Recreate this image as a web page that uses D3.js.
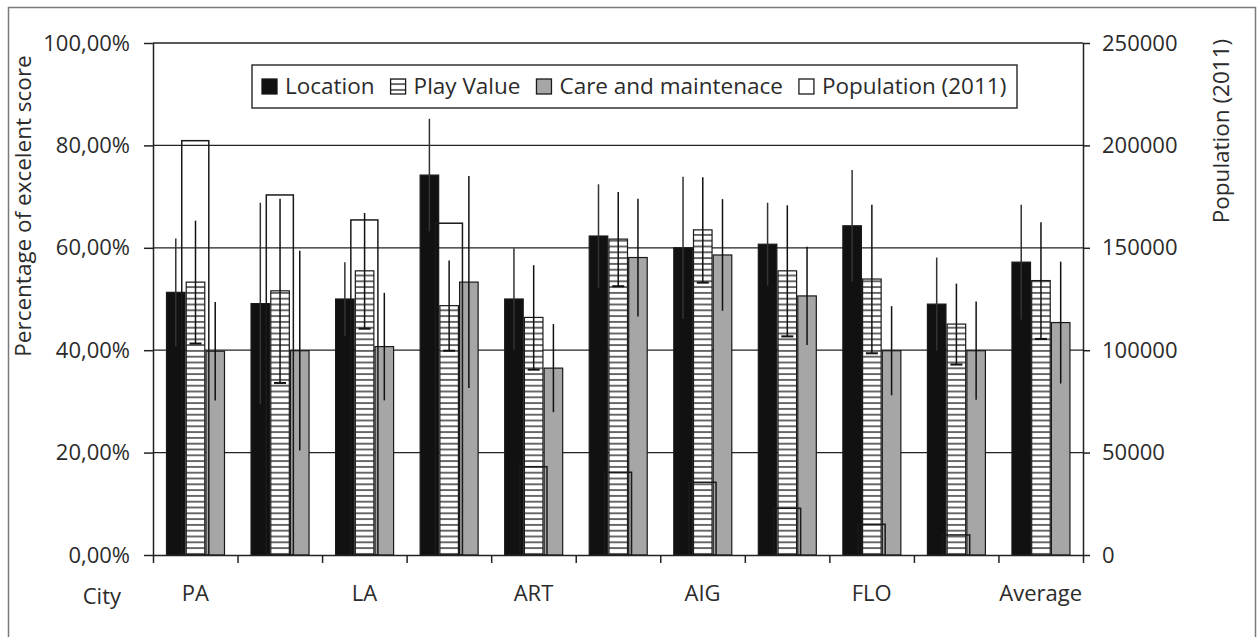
<!DOCTYPE html>
<html>
<head>
<meta charset="utf-8">
<script src="https://cdn.jsdelivr.net/npm/d3@7"></script>
<style>
  body { margin: 0; background: #fff; }
  text { font-family: "Open Sans", sans-serif; fill: #2b2b2b; }
</style>
</head>
<body>
<div class="chart"></div>
<script>
// categories (only every second label is printed on the axis)
var cityLabels = ["PA", "", "LA", "", "ART", "", "AIG", "", "FLO", "", "Average"];
var seriesNames = ["Location", "Play Value", "Care and maintenace", "Population (2011)"];

// share of excellent scores, with error bar half-widths
var location_ = [0.513, 0.491, 0.500, 0.742, 0.500, 0.623, 0.600, 0.607, 0.643, 0.490, 0.572];
var locationErr = [0.105, 0.197, 0.072, 0.110, 0.099, 0.101, 0.139, 0.081, 0.109, 0.091, 0.112];
var playValue = [0.533, 0.516, 0.555, 0.487, 0.464, 0.617, 0.635, 0.555, 0.539, 0.451, 0.536];
var playErr = [0.120, 0.180, 0.113, 0.088, 0.102, 0.092, 0.103, 0.128, 0.145, 0.079, 0.114];
var care = [0.398, 0.399, 0.407, 0.533, 0.365, 0.581, 0.586, 0.506, 0.399, 0.399, 0.454];
var careErr = [0.096, 0.195, 0.105, 0.207, 0.086, 0.115, 0.109, 0.096, 0.087, 0.096, 0.119];

// population (right axis)
var population = [202300, 175800, 163600, 162000, 43100, 40400, 35500, 22800, 15000, 9800, 0];

var pctTicks = [0, 0.2, 0.4, 0.6, 0.8, 1];
var popTicks = [0, 50000, 100000, 150000, 200000, 250000];

function init() {
    var w = 1257;
    var h = 637;
    var left = 153, right = 1083, top = 43, bottom = 555;

    var svg = d3.select(".chart")
        .append("svg")
        .attr("width", w)
        .attr("height", h);

    // hatch pattern for Play Value
    var defs = svg.append("defs");
    var pat = defs.append("pattern")
        .attr("id", "hatch")
        .attr("patternUnits", "userSpaceOnUse")
        .attr("width", 8)
        .attr("height", 5.8);
    pat.append("rect").attr("width", 8).attr("height", 5.8).attr("fill", "#fff");
    pat.append("line")
        .attr("x1", 0).attr("x2", 8)
        .attr("y1", 2.9).attr("y2", 2.9)
        .attr("stroke", "#1a1a1a")
        .attr("stroke-width", 1.3);

    // outer frame
    svg.append("rect")
        .attr("x", 8.5).attr("y", 7.5)
        .attr("width", 1247).attr("height", 650)
        .attr("fill", "none")
        .attr("stroke", "#7a7a7a")
        .attr("stroke-width", 1.5);

    var idx = d3.range(cityLabels.length);

    var xScale = d3.scaleBand()
        .domain(idx)
        .range([left, right]);

    var xSub = d3.scaleBand()
        .domain([0, 1, 2])
        .range([13.5, 71.5])
        .paddingInner(0.06);

    var xPop = d3.scaleBand()
        .domain(idx)
        .range([left, right])
        .paddingInner(0.68)
        .paddingOuter(0.34);

    var xEdge = d3.scaleLinear()
        .domain([0, cityLabels.length])
        .range([left, right]);

    var yScale = d3.scaleLinear()
        .domain([0, 1])
        .range([bottom, top]);

    var yPop = d3.scaleLinear()
        .domain([0, 250000])
        .range([bottom, top]);

    var comma = d3.formatLocale({ decimal: ",", thousands: ".", grouping: [3], currency: ["", ""] });

    // gridlines
    svg.append("g")
        .selectAll("line")
        .data(pctTicks.slice(1))
        .enter()
        .append("line")
        .attr("x1", left)
        .attr("x2", right)
        .attr("y1", function (d) { return yScale(d); })
        .attr("y2", function (d) { return yScale(d); })
        .attr("stroke", "#222")
        .attr("stroke-width", 1.3);

    var fills = ["#111", "url(#hatch)", "#a6a6a6"];
    var vals = [location_, playValue, care];
    var errs = [locationErr, playErr, careErr];

    vals.forEach(function (series, s) {
        svg.append("g")
            .selectAll("rect")
            .data(series)
            .enter()
            .append("rect")
            .attr("x", function (d, i) { return xScale(i) + xSub(s); })
            .attr("y", function (d) { return yScale(d); })
            .attr("width", xSub.bandwidth())
            .attr("height", function (d) { return bottom - yScale(d); })
            .attr("fill", fills[s])
            .attr("stroke", "#1a1a1a")
            .attr("stroke-width", 1.2);
    });

    // population bars, no fill, on top
    svg.append("g")
        .selectAll("rect")
        .data(population)
        .enter()
        .filter(function (d) { return d > 0; })
        .append("rect")
        .attr("x", function (d, i) { return xPop(i); })
        .attr("y", function (d) { return yPop(d); })
        .attr("width", xPop.bandwidth())
        .attr("height", function (d) { return bottom - yPop(d); })
        .attr("fill", "none")
        .attr("stroke", "#1a1a1a")
        .attr("stroke-width", 1.5);

    // error bars
    vals.forEach(function (series, s) {
        var g = svg.append("g");
        var cx = function (i) { return xScale(i) + xSub(s) + xSub.bandwidth() / 2; };
        g.selectAll("line")
            .data(series)
            .enter()
            .append("line")
            .attr("x1", function (d, i) { return cx(i); })
            .attr("x2", function (d, i) { return cx(i); })
            .attr("y1", function (d, i) { return yScale(d + errs[s][i]); })
            .attr("y2", function (d, i) { return yScale(d - errs[s][i]); })
            .attr("stroke", s == 0 ? "#333" : "#111")
            .attr("stroke-width", 1.5);
        if (s == 1) {
            g.selectAll(".cap")
                .data(series)
                .enter()
                .append("line")
                .attr("class", "cap")
                .attr("x1", function (d, i) { return cx(i) - 6; })
                .attr("x2", function (d, i) { return cx(i) + 6; })
                .attr("y1", function (d, i) { return yScale(d - errs[s][i]); })
                .attr("y2", function (d, i) { return yScale(d - errs[s][i]); })
                .attr("stroke", "#111")
                .attr("stroke-width", 2);
        }
    });

    // axes
    var yAxis = d3.axisLeft(yScale)
        .tickValues(pctTicks)
        .tickSize(9)
        .tickSizeOuter(0)
        .tickPadding(14)
        .tickFormat(comma.format(".2%"));

    var yAxisRight = d3.axisRight(yPop)
        .tickValues(popTicks)
        .tickSize(7)
        .tickSizeOuter(0)
        .tickPadding(12)
        .tickFormat(d3.format("d"));

    var xTicks = d3.axisBottom(xEdge)
        .tickValues(d3.range(cityLabels.length + 1))
        .tickSize(8)
        .tickSizeOuter(0)
        .tickFormat("");

    var xLabels = d3.axisBottom(xScale)
        .tickSize(0)
        .tickPadding(30)
        .tickFormat(function (i) { return cityLabels[i]; });

    svg.append("g")
        .attr("class", "axis")
        .attr("transform", "translate(" + left + ",0)")
        .call(yAxis);

    svg.append("g")
        .attr("class", "axis")
        .attr("transform", "translate(" + right + ",0)")
        .call(yAxisRight);

    svg.append("g")
        .attr("class", "axis")
        .attr("transform", "translate(0," + bottom + ")")
        .call(xTicks);

    svg.append("g")
        .attr("class", "axis labels")
        .attr("transform", "translate(0," + bottom + ")")
        .call(xLabels)
        .select(".domain").remove();

    svg.selectAll(".axis path, .axis line")
        .attr("stroke", "#222")
        .attr("stroke-width", 1.5);
    svg.selectAll(".axis text")
        .style("font-family", "'Open Sans', sans-serif")
        .style("font-size", "22px")
        .attr("fill", "#2b2b2b");

    svg.append("text")
        .attr("x", 121)
        .attr("y", 604)
        .attr("text-anchor", "end")
        .style("font-size", "22px")
        .text("City");

    svg.append("text")
        .attr("transform", "translate(31,206) rotate(-90)")
        .attr("text-anchor", "middle")
        .style("font-size", "22.5px")
        .text("Percentage of excelent score");

    svg.append("text")
        .attr("transform", "translate(1229,131) rotate(-90)")
        .attr("text-anchor", "middle")
        .style("font-size", "22.5px")
        .text("Population (2011)");

    // legend
    var legend = svg.append("g");
    legend.append("rect")
        .attr("x", 252).attr("y", 65)
        .attr("width", 765).attr("height", 43)
        .attr("fill", "#fff")
        .attr("stroke", "#333")
        .attr("stroke-width", 1.5);

    var lx = 262;
    var legendFills = ["#111", "url(#hatch)", "#a6a6a6", "#fff"];
    seriesNames.forEach(function (name, i) {
        legend.append("rect")
            .attr("x", lx).attr("y", 79)
            .attr("width", 15).attr("height", 15)
            .attr("fill", legendFills[i])
            .attr("stroke", "#1a1a1a")
            .attr("stroke-width", 1.3);
        var t = legend.append("text")
            .attr("x", lx + 23)
            .attr("y", 94)
            .style("font-size", "22.5px")
            .text(name);
        lx = lx + 23 + t.node().getComputedTextLength() + 16;
    });
}

init();
</script>
</body>
</html>
